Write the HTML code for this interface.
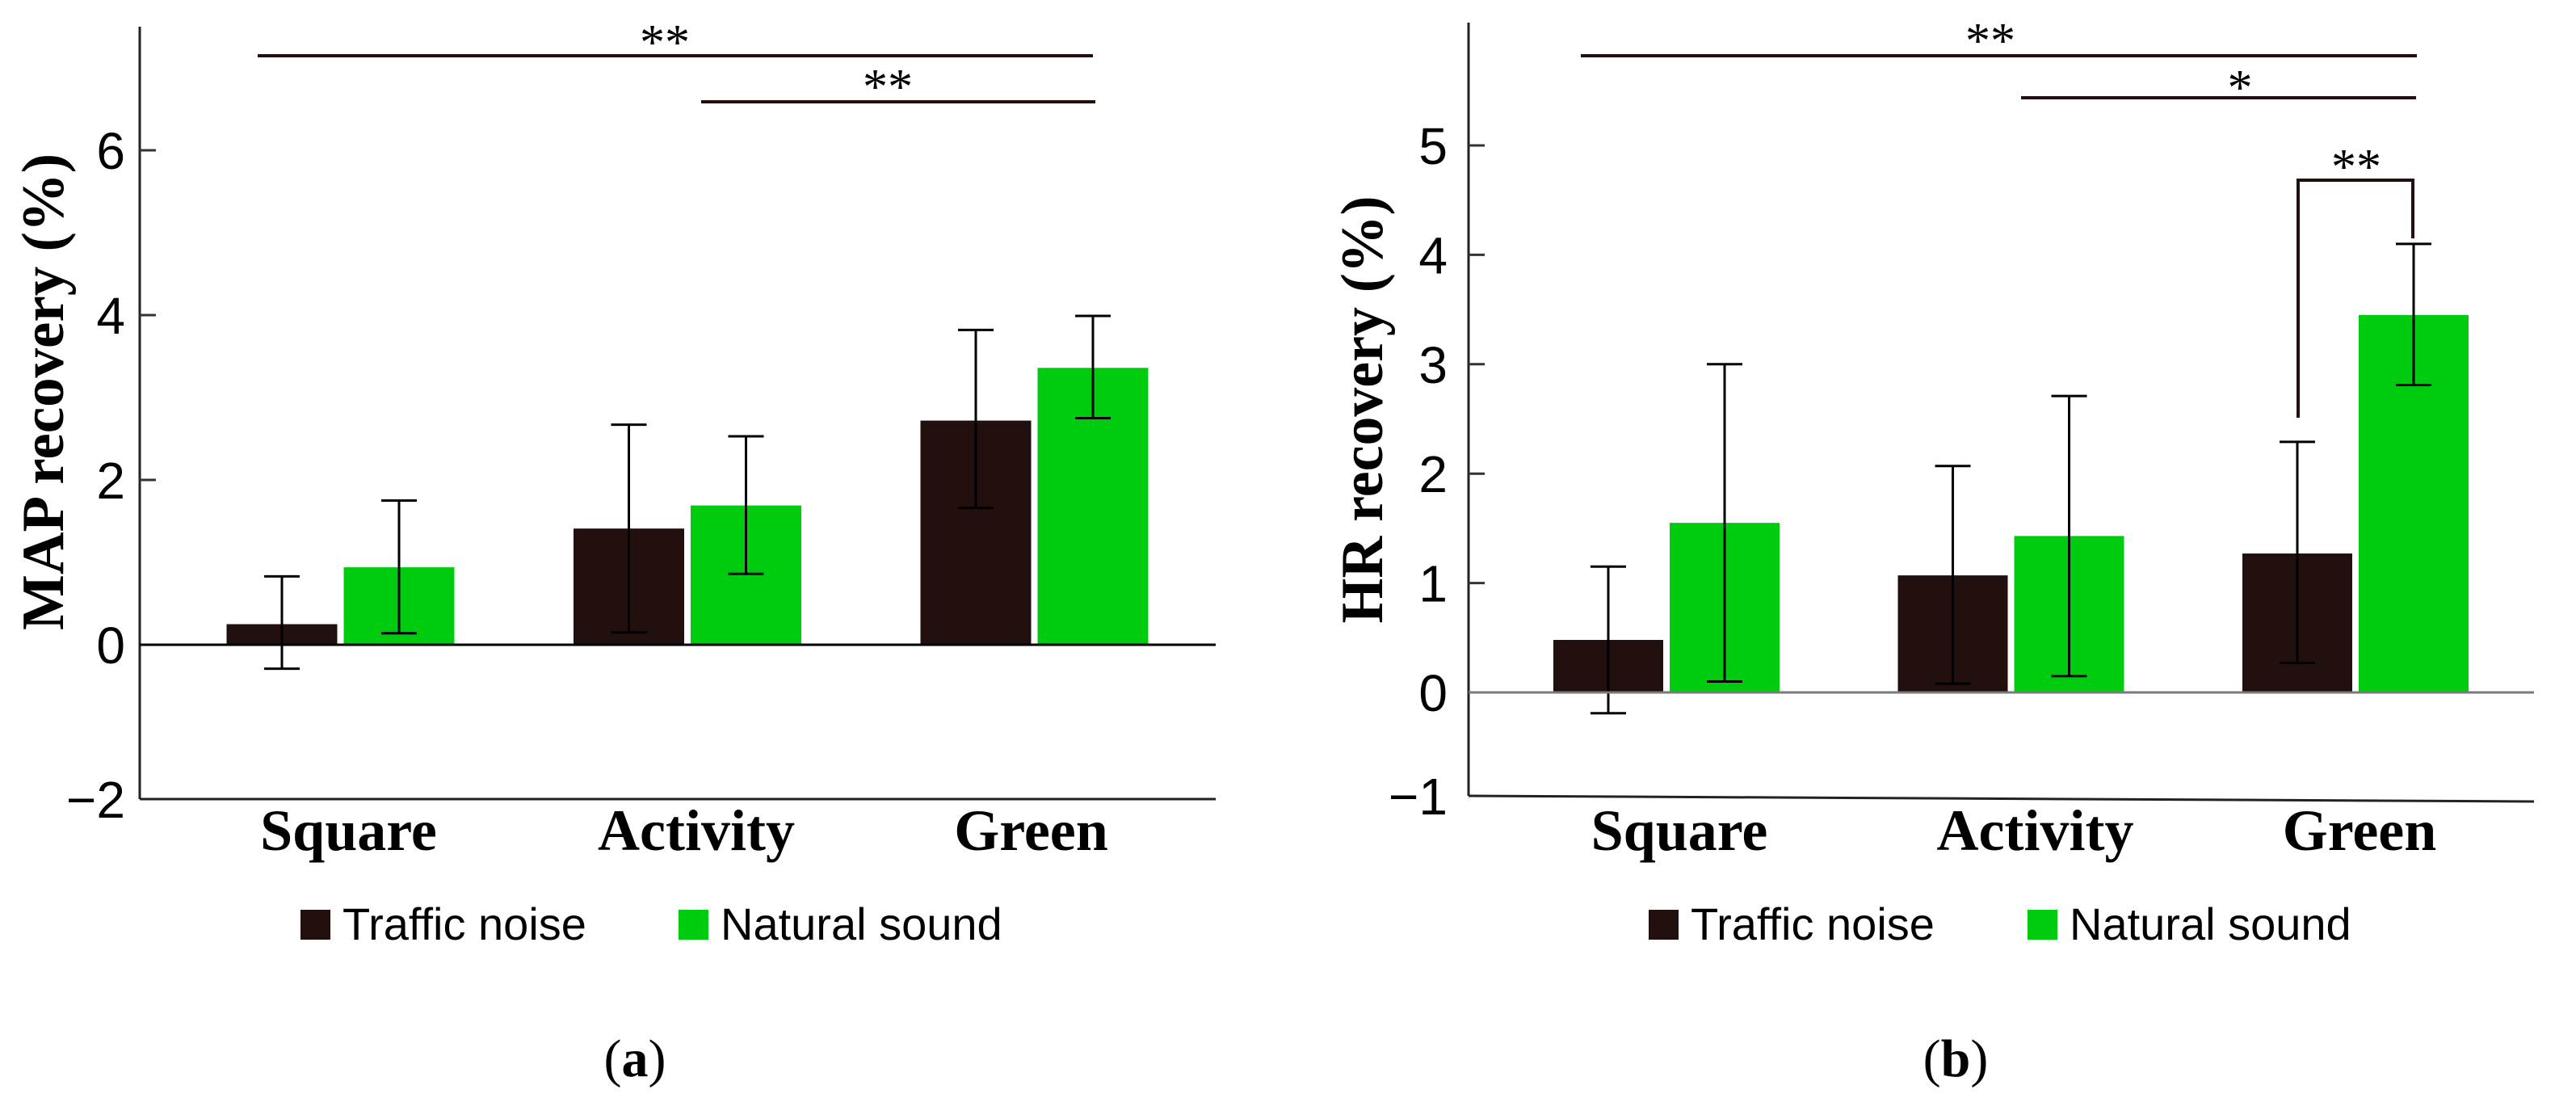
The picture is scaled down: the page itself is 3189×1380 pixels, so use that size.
<!DOCTYPE html>
<html>
<head>
<meta charset="utf-8">
<style>
html,body{margin:0;padding:0;background:#fff;}
svg{display:block;}
</style>
</head>
<body>
<svg id="fig" width="3189" height="1380" viewBox="0 0 3189 1380" xmlns="http://www.w3.org/2000/svg"></svg>
<script>
const categories = ["Square", "Activity", "Green"];
const seriesNames = ["Traffic noise", "Natural sound"];
// Panel (a) MAP recovery
const mapTraffic = [0.25, 1.41, 2.72];
const mapNatural = [0.94, 1.69, 3.36];
const mapTrafficHi = [0.83, 2.67, 3.82];
const mapTrafficLo = [-0.29, 0.15, 1.66];
const mapNaturalHi = [1.75, 2.53, 3.99];
const mapNaturalLo = [0.14, 0.86, 2.75];
const mapTicks = [6, 4, 2, 0, -2];
// Panel (b) HR recovery
const hrTraffic = [0.48, 1.07, 1.27];
const hrNatural = [1.55, 1.43, 3.45];
const hrTrafficHi = [1.15, 2.07, 2.29];
const hrTrafficLo = [-0.19, 0.08, 0.27];
const hrNaturalHi = [3.0, 2.71, 4.10];
const hrNaturalLo = [0.10, 0.15, 2.81];
const hrTicks = [5, 4, 3, 2, 1, 0, -1];

const NS = "http://www.w3.org/2000/svg";
const svg = document.getElementById("fig");
const TRAFFIC = "#21100e", NATURAL = "#00cc0f";

function mk(tag, attrs, parent) {
  const e = document.createElementNS(NS, tag);
  for (const k in attrs) e.setAttribute(k, attrs[k]);
  (parent || svg).appendChild(e);
  return e;
}

function drawPanel(p) {
  const g = mk("g", {});
  
  
  const y = v => p.zeroY - v * p.unit;
  const x0 = i => p.firstCenter + i * p.spacing;

  for (let i = 0; i < categories.length; i++) {
    const c = x0(i);
    const vals = [p.traffic[i], p.natural[i]];
    const his = [p.trafficHi[i], p.naturalHi[i]];
    const los = [p.trafficLo[i], p.naturalLo[i]];
    for (let s = 0; s < 2; s++) {
      const left = s === 0 ? c - 4 - p.barW : c + 4;
      const top = Math.min(y(vals[s]), y(0));
      const r = mk("rect", {x: left, y: top, width: p.barW, height: Math.abs(y(vals[s]) - y(0)), fill: s === 0 ? TRAFFIC : NATURAL}, g);
      
      
      const ex = left + p.barW / 2;
      const eg = mk("g", {stroke: "#000", "stroke-width": 3, fill: "none"}, g);
      
      
      mk("line", {x1: ex, x2: ex, y1: y(his[s]), y2: y(los[s])}, eg);
      mk("line", {x1: ex - 22, x2: ex + 22, y1: y(his[s]), y2: y(his[s])}, eg);
      mk("line", {x1: ex - 22, x2: ex + 22, y1: y(los[s]), y2: y(los[s])}, eg);
    }
    const t = mk("text", {x: c + p.labelShift[i], y: 1052, "text-anchor": "middle", "font-family": "Liberation Serif, serif", "font-weight": "bold", "font-size": 72, fill: "#000"}, g);
    t.textContent = categories[i];
    
    
  }

  const ax = mk("line", {x1: p.axisX, x2: p.axisX, y1: p.axisTop, y2: p.axisBottom, stroke: "#222", "stroke-width": 3}, g);
  
  
  const xb = mk("line", {x1: p.axisX, x2: p.axisRight, y1: p.axisBottom, y2: p.axisBottomR, stroke: "#222", "stroke-width": 3}, g);
  
  
  const zl = mk("line", {x1: p.axisX, x2: p.axisRight, y1: y(0), y2: y(0), stroke: p.zeroColor, "stroke-width": 3}, g);
  
  

  for (const tv of p.ticks) {
    let ty = y(tv);
    if (ty > p.axisBottom) ty = p.axisBottom;
    if (tv > 0) {
      const tk = mk("line", {x1: p.axisX, x2: p.axisX + 20, y1: ty, y2: ty, stroke: "#333", "stroke-width": 3}, g);
      
      
    }
    const tl = mk("text", {x: p.labelRight, y: ty + 23, "text-anchor": "end", "font-family": "Liberation Sans, sans-serif", "font-size": 64, fill: "#000"}, g);
    tl.textContent = tv < 0 ? "\u2212" + Math.abs(tv) : String(tv);
    
    
  }

  const title = mk("text", {x: 0, y: 0, transform: "translate(" + p.titleX + "," + p.titleY + ") rotate(-90)", "text-anchor": "middle", "font-family": "Liberation Serif, serif", "font-weight": "bold", "font-size": 74, fill: "#000", textLength: p.titleLen, lengthAdjust: "spacingAndGlyphs"}, g);
  title.textContent = p.title;
  
  

  for (const s of p.sig) {
    const sg = mk("g", {}, g);
    
    
    if (s.bracket) {
      mk("polyline", {points: s.x1 + "," + s.l1 + " " + s.x1 + "," + s.y + " " + s.x2 + "," + s.y + " " + s.x2 + "," + s.l2, fill: "none", stroke: TRAFFIC, "stroke-width": 4}, sg);
    } else {
      mk("line", {x1: s.x1, x2: s.x2, y1: s.y, y2: s.y, stroke: TRAFFIC, "stroke-width": 4}, sg);
    }
    const st = mk("text", {x: s.sx, y: s.sy + 29, "text-anchor": "middle", "font-family": "Liberation Serif, serif", "font-size": 62, fill: "#000"}, sg);
    st.textContent = s.stars;
  }

  const lg = mk("g", {}, g);
  
  
  for (let s = 0; s < 2; s++) {
    const le = mk("g", {}, lg);
    
    
    mk("rect", {x: p.legX[s], y: 1126, width: 37, height: 37, fill: s === 0 ? TRAFFIC : NATURAL}, le);
    const lt = mk("text", {x: p.legX[s] + 52, y: 1163, "font-family": "Liberation Sans, sans-serif", "font-size": 56, fill: "#000"}, le);
    lt.textContent = seriesNames[s];
  }

  const cap = mk("text", {x: p.capX, y: 1332, "text-anchor": "middle", "font-family": "Liberation Serif, serif", "font-size": 66, fill: "#000"}, g);
  
  
  const b1 = mk("tspan", {}, cap); b1.textContent = "(";
  const b2 = mk("tspan", {"font-weight": "bold"}, cap); b2.textContent = p.letter;
  const b3 = mk("tspan", {}, cap); b3.textContent = ")";
}

drawPanel({
  name: "panel-a-map", zeroY: 798, unit: 102, firstCenter: 421.5, spacing: 429.5, barW: 137,
  traffic: mapTraffic, natural: mapNatural, trafficHi: mapTrafficHi, trafficLo: mapTrafficLo,
  naturalHi: mapNaturalHi, naturalLo: mapNaturalLo, ticks: mapTicks,
  axisX: 173, axisTop: 33, axisBottom: 989, axisBottomR: 989, axisRight: 1505, zeroColor: "#000",
  labelRight: 155, labelShift: [10, 11, -4],
  title: "MAP recovery (%)", titleX: 78, titleY: 485, titleLen: 590,
  sig: [
    {x1: 319, x2: 1353, y: 69, sx: 823, sy: 44, stars: "**"},
    {x1: 868, x2: 1356, y: 126, sx: 1099, sy: 99, stars: "**"}
  ],
  legX: [372, 840], capX: 786, letter: "a"
});

drawPanel({
  name: "panel-b-hr", zeroY: 857, unit: 135.4, firstCenter: 1991 + 72, spacing: 426.5, barW: 136,
  traffic: hrTraffic, natural: hrNatural, trafficHi: hrTrafficHi, trafficLo: hrTrafficLo,
  naturalHi: hrNaturalHi, naturalLo: hrNaturalLo, ticks: hrTicks,
  axisX: 1818, axisTop: 28, axisBottom: 985, axisBottomR: 992, axisRight: 3137, zeroColor: "#7a7a7a",
  labelRight: 1792, labelShift: [16, 30, 5],
  title: "HR recovery (%)", titleX: 1711, titleY: 507, titleLen: 529,
  sig: [
    {x1: 1957, x2: 2992, y: 69, sx: 2464, sy: 42, stars: "**"},
    {x1: 2502, x2: 2991, y: 121, sx: 2773, sy: 100, stars: "*"},
    {bracket: true, x1: 2845, x2: 2987, y: 223, l1: 517, l2: 295, sx: 2917, sy: 198, stars: "**"}
  ],
  legX: [2041, 2510], capX: 2421, letter: "b"
});
</script>
</body>
</html>
